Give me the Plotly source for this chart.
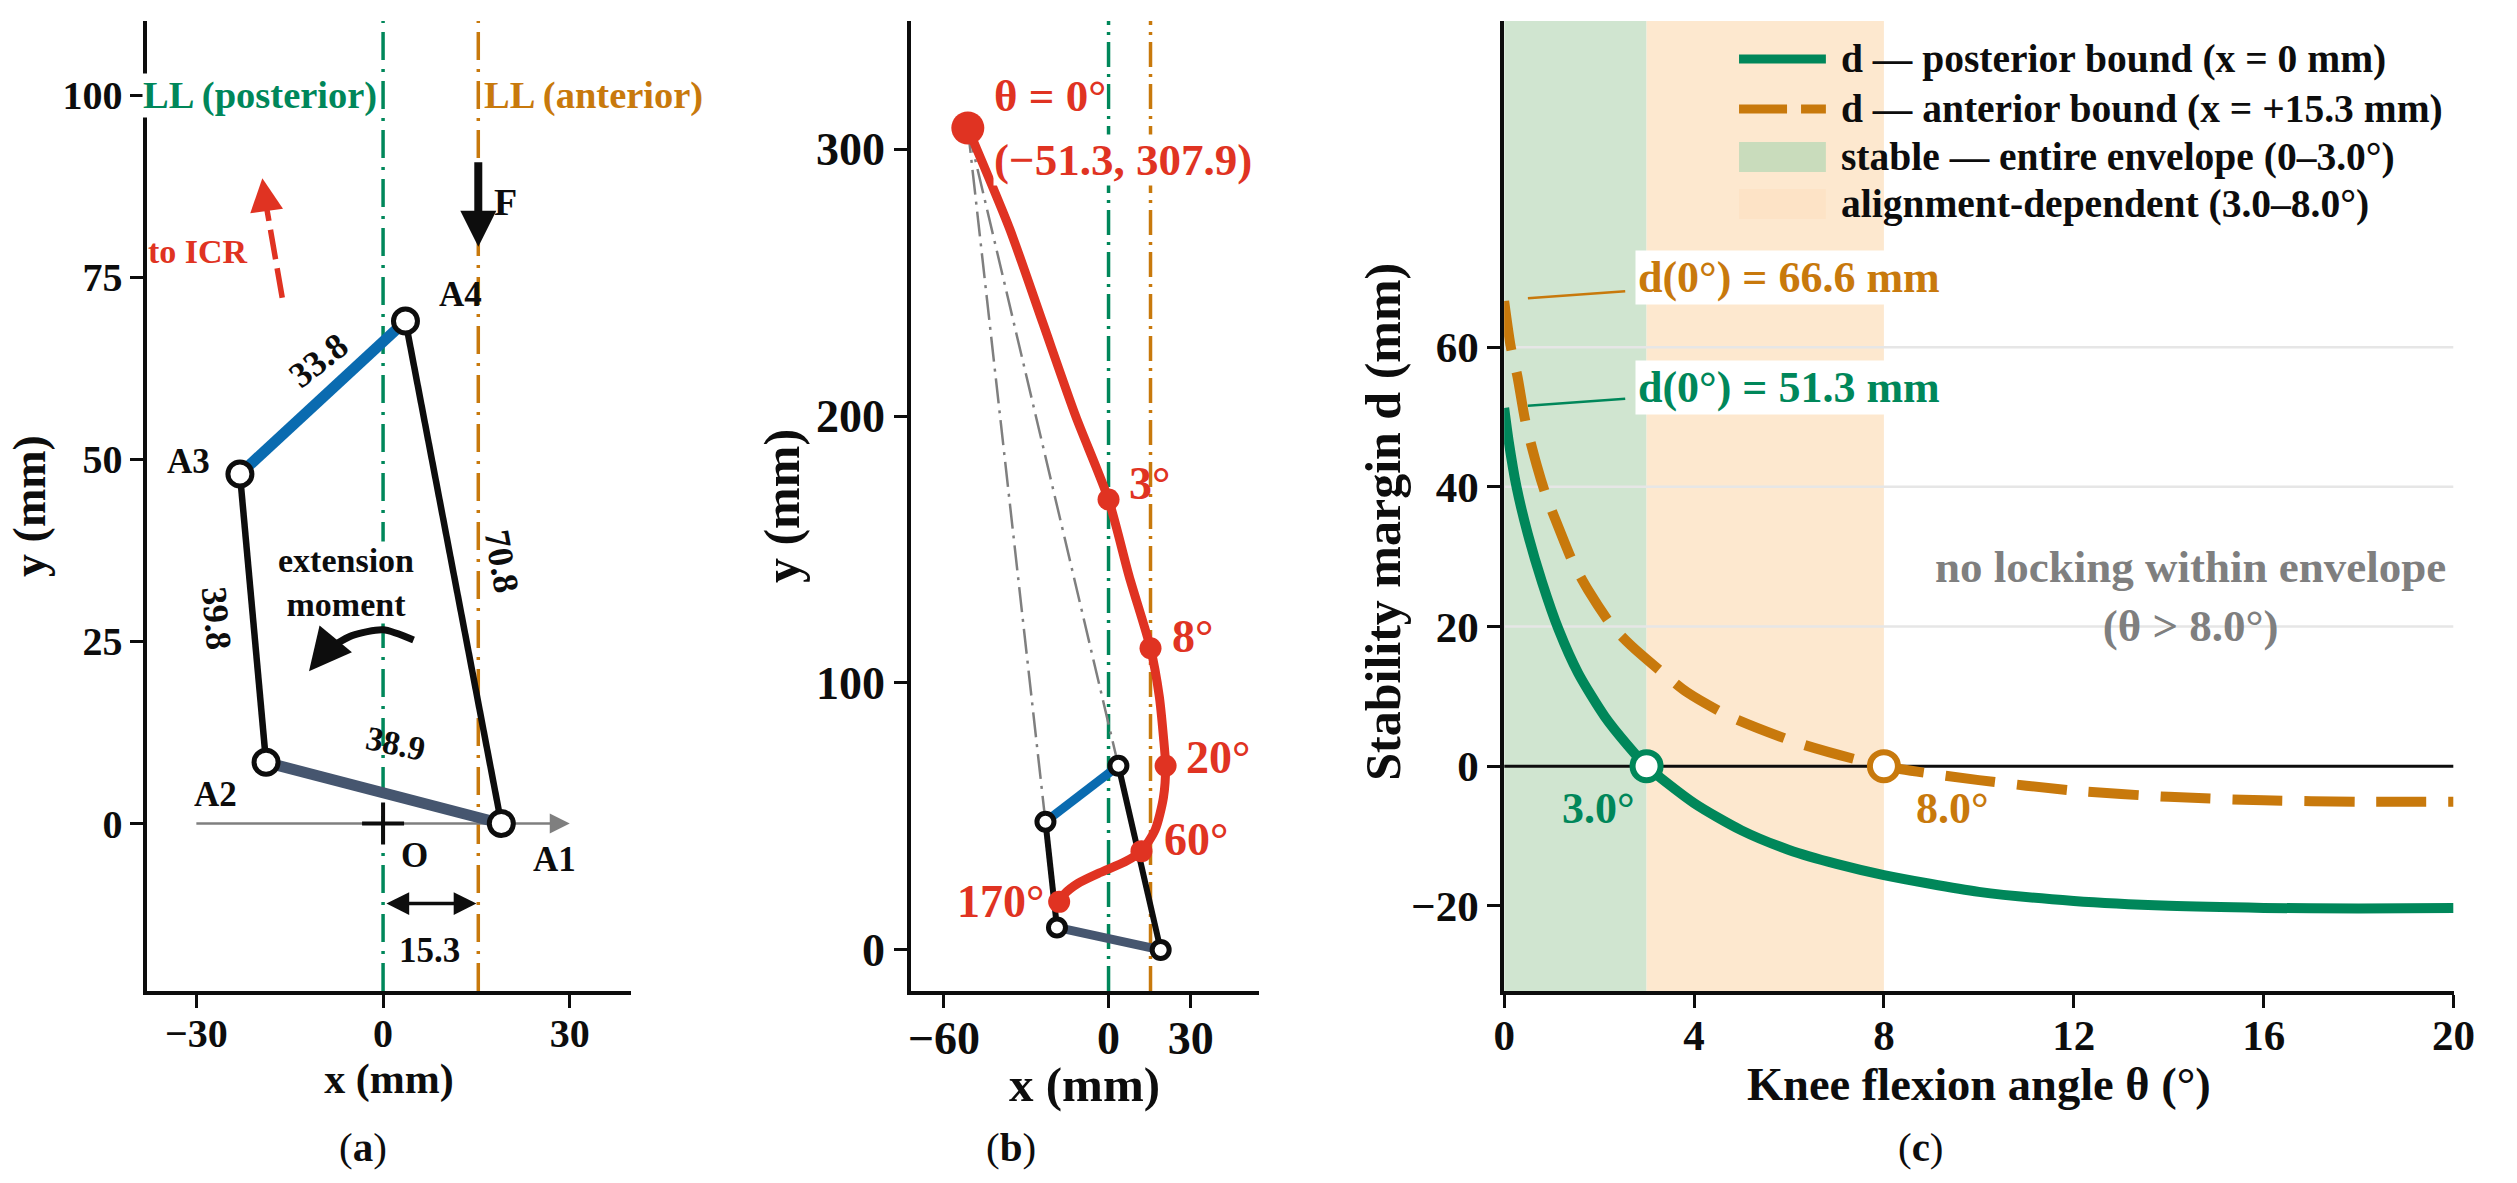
import plotly.graph_objects as go

W, H = 2517, 1183
FONT = "Liberation Serif"
GREEN = "#00875A"
ORANGE = "#C8790C"
RED = "#E03322"
BLUE = "#0A6BB0"
SLATE = "#46566F"
BLACK = "#0D0D0D"
GREY = "#7F7F7F"
DASH_A = "28px,9px,3px,9px"
DASH_B = "25px,7px,3px,7px"

# linkage joints (mm)
joint_x = [19.0, -18.8, -23.0, 3.6]
joint_y = [0.0, 8.4, 48.0, 69.0]
bound_posterior = 0.0
bound_anterior = 15.3

# ICR path, panel b
path_x = [-51.3, -36, -24, -12, 0, 7.5, 15.3, 18.5, 20, 20.8, 20, 17, 12, 6, -3, -11, -16, -18]
path_y = [307.9, 270, 235, 200, 168.7, 140, 113, 95, 80, 69, 57, 45, 37, 33, 29, 25, 21, 18]
path_marker_x = [0, 15.3, 20.8, 12, -18]
path_marker_y = [168.7, 113, 69, 37, 18]

# stability margins, panel c
theta_post = [0, 0.1, 0.26, 0.5, 0.8, 1.15, 1.56, 2.12, 2.6, 3, 4, 5, 6, 7, 8, 10, 12, 14, 16, 18, 20]
d_post = [51.3, 46.3, 40, 33.2, 26.3, 19.5, 13.3, 7.1, 3, 0, -5.3, -9.2, -12, -14, -15.6, -18, -19.3, -20, -20.3, -20.4, -20.3]
theta_ant = [0, 0.14, 0.28, 0.44, 0.69, 0.87, 1.25, 1.46, 1.77, 2.26, 2.67, 3.44, 3.85, 4.76, 6.2, 8, 10, 12, 14, 16, 18, 20]
d_ant = [66.6, 60, 55.8, 49.6, 43, 39, 32.4, 29, 25.2, 20.2, 17.3, 12.8, 10.6, 7.1, 3.3, 0, -2, -3.5, -4.4, -4.9, -5.1, -5.1]
theta_post_lock = 3.0
theta_ant_lock = 8.0
grid_c = [20, 40, 60]

legend_labels = ["d \u2014 posterior bound (x = 0 mm)", "d \u2014 anterior bound (x = +15.3 mm)",
                 "stable \u2014 entire envelope (0\u20133.0\u00b0)", "alignment-dependent (3.0\u20138.0\u00b0)"]

RA = dict(x=[-37.9, 39.8], y=[-23.0, 110.2])
RB = dict(x=[-72.0, 55.0], y=[-15.4, 348.0])
RC = dict(x=[0, 20], y=[-32.2, 106.7])

fig = go.Figure()


def dom(a, b, n):
    return [a / n, b / n]


def axis(domain, rng, ticks, title, anchor, standoff, tick, tsize, tls=0):
    return dict(
        domain=domain, range=rng, tickmode="array", tickvals=ticks,
        ticktext=[str(t).replace("-", "\u2212") for t in ticks],
        ticks="outside", ticklen=13, tickwidth=3, tickcolor=BLACK, ticklabelstandoff=tls,
        showline=True, linecolor=BLACK, linewidth=3.5, showgrid=False, zeroline=False,
        anchor=anchor,
        tickfont=dict(family=FONT, size=tick, color=BLACK, weight="bold"),
        title=dict(text=title, standoff=standoff,
                   font=dict(family=FONT, size=tsize, color=BLACK, weight="bold")),
    )


YD = dom(H - 991, H - 21, H)
shapes = []
LX0, LX1, LTX = 1751, 1839, 1852
LROWS = [59, 109, 157, 204]
shapes.append(dict(type="line", xref="paper", yref="paper", x0=LX0 / W, x1=LX1 / W, y0=1 - LROWS[0] / H, y1=1 - LROWS[0] / H,
                   line=dict(color=GREEN, width=9)))
shapes.append(dict(type="line", xref="paper", yref="paper", x0=LX0 / W, x1=LX1 / W, y0=1 - LROWS[1] / H, y1=1 - LROWS[1] / H,
                   line=dict(color=ORANGE, width=9, dash="48px,14px")))
for row, c in ((LROWS[2], "#C9DCBC"), (LROWS[3], "#FDE3C6")):
    shapes.append(dict(type="rect", xref="paper", yref="paper", x0=LX0 / W, x1=LX1 / W,
                       y0=1 - (row + 15) / H, y1=1 - (row - 15) / H, fillcolor=c, line=dict(width=0)))

L = dict(
    width=W, height=H, margin=dict(l=0, r=0, t=0, b=0),
    paper_bgcolor="white", plot_bgcolor="rgba(0,0,0,0)",
    font=dict(family=FONT, color=BLACK),
    xaxis=axis(dom(138, 628, W), RA["x"], [-30, 0, 30], "x (mm)", "y", 7, 40, 42, -9),
    yaxis=axis(YD, RA["y"], [0, 25, 50, 75, 100], "y (mm)", "x", 3, 40, 46),
    xaxis2=axis(dom(912, 1265, W), RB["x"], [-60, 0, 30], "", "y2", 0, 46, 50, -9),
    yaxis2=axis(YD, RB["y"], [0, 100, 200, 300], "y (mm)", "x2", 2, 46, 50),
    xaxis3=axis(dom(1513, 2475, W), RC["x"], [0, 4, 8, 12, 16, 20], "Knee flexion angle \u03b8 (\u00b0)", "y3", 0, 43, 46.5, -9),
    yaxis3=axis(YD, RC["y"], [-20, 0, 20, 40, 60], "", "x3", 0, 43, 50),
    showlegend=False,
    shapes=shapes,
)


def line(xs, ys, ax, color, width, dash=None, shape=None):
    fig.add_trace(go.Scatter(
        x=xs, y=ys, xaxis="x" + ax, yaxis="y" + ax, mode="lines",
        line=dict(color=color, width=width, dash=dash, shape=shape, smoothing=0.7 if shape else None),
        showlegend=False, hoverinfo="skip"))


def text(s, x, y, ax, color=BLACK, size=30, angle=0, bg=None, anchor="center", pad=0):
    fig.add_annotation(
        text=s, x=x, y=y, xref="x" + ax, yref="y" + ax, showarrow=False, textangle=angle,
        xanchor=anchor, yanchor="middle", bgcolor=bg, borderpad=pad,
        font=dict(family=FONT, size=size, color=color, weight="bold"))


def ptext(s, px, py, size, color=BLACK, angle=0, anchor="center", weight="bold"):
    fig.add_annotation(
        text=s, x=px / W, y=1 - py / H, xref="paper", yref="paper", showarrow=False, textangle=angle,
        xanchor=anchor, yanchor="middle",
        font=dict(family=FONT, size=size, color=color, weight=weight))


def arrow(x0, y0, x1, y1, ax, color, width, head=2, size=1.0, side="end"):
    fig.add_annotation(
        x=x1, y=y1, ax=x0, ay=y0, xref="x" + ax, yref="y" + ax, axref="x" + ax, ayref="y" + ax,
        text="", showarrow=True, arrowhead=head, arrowsize=size, arrowwidth=width,
        arrowcolor=color, arrowside=side, standoff=0, startstandoff=0)


def linkage(ax, thick, thin, msize, mline):
    xs, ys = joint_x, joint_y
    line([xs[1], xs[2]], [ys[1], ys[2]], ax, BLACK, thin)
    line([xs[3], xs[0]], [ys[3], ys[0]], ax, BLACK, thin)
    line([xs[0], xs[1]], [ys[0], ys[1]], ax, SLATE, thick)
    line([xs[2], xs[3]], [ys[2], ys[3]], ax, BLUE, thick)
    fig.add_trace(go.Scatter(
        x=xs, y=ys, xaxis="x" + ax, yaxis="y" + ax, mode="markers", showlegend=False, hoverinfo="skip",
        marker=dict(size=msize, color="white", line=dict(color=BLACK, width=mline))))


# ---------- panel a ----------
line([bound_posterior] * 2, RA["y"], "", GREEN, 3.5, DASH_A)
line([bound_anterior] * 2, RA["y"], "", ORANGE, 3.5, DASH_A)
line([bound_posterior] * 2, RB["y"], "2", GREEN, 3.5, DASH_B)
line([bound_anterior] * 2, RB["y"], "2", ORANGE, 3.5, DASH_B)

line([-30, 29], [0, 0], "", GREY, 2.5)
arrow(28, 0, 30, 0, "", GREY, 2.5, head=2, size=1.6)
linkage("", 11, 6.5, 24, 5)
fig.add_trace(go.Scatter(x=[0], y=[0], mode="markers", showlegend=False, hoverinfo="skip",
                         marker=dict(symbol="cross-thin", size=30, line=dict(color=BLACK, width=4))))

line([-16.2, -19.0], [72.2, 86], "", RED, 5.5, "30px,9px")
arrow(-19.0, 86, -19.4, 88.6, "", RED, 5.5, head=2, size=1.2)
arrow(15.3, 91, 15.3, 79.2, "", BLACK, 8, head=2, size=0.9)
arrow(0.3, -11, 15, -11, "", BLACK, 3.5, head=2, size=1.3, side="end+start")
text("extension<br>moment", -5.9, 33.1, "", BLACK, 34, bg="white")
line([4.9, 0, -5, -9], [25.2, 26.6, 25.8, 23.9], "", BLACK, 7, shape="spline")
arrow(-9, 23.9, -11.9, 20.9, "", BLACK, 7, head=2, size=1.2)

text("LL (posterior)", -19.8, 100, "", GREEN, 38.5, bg="white")
text("LL (anterior)", 33.8, 100, "", ORANGE, 38.5, bg="white")
text("to ICR", -37.9, 78.5, "", RED, 34, bg="white", anchor="left")
text("F", 19.7, 85.3, "", BLACK, 38)
text("A4", 12.4, 72.6, "", BLACK, 35)
text("A3", -31.3, 49.7, "", BLACK, 35)
text("A2", -27, 4, "", BLACK, 35)
text("A1", 27.5, -5, "", BLACK, 35)
text("O", 5, -4.4, "", BLACK, 35)
text("15.3", 7.5, -17.5, "", BLACK, 35)
text("33.8", -10.3, 63.6, "", BLACK, 36, angle=-38)
text("39.8", -26.8, 28.2, "", BLACK, 36, angle=85)
text("70.8", 19, 36, "", BLACK, 36, angle=80)
text("38.9", 2, 11, "", BLACK, 34, angle=12)

# ---------- panel b ----------
line([path_x[0], joint_x[2]], [path_y[0], joint_y[2]], "2", GREY, 2.5, DASH_B)
line([path_x[0], joint_x[3]], [path_y[0], joint_y[3]], "2", GREY, 2.5, DASH_B)
linkage("2", 9, 6, 17, 5)
line(path_x, path_y, "2", RED, 9, shape="spline")
fig.add_trace(go.Scatter(x=path_marker_x, y=path_marker_y, xaxis="x2", yaxis="y2", mode="markers",
                         showlegend=False, hoverinfo="skip", marker=dict(size=22, color=RED)))
fig.add_trace(go.Scatter(x=path_x[:1], y=path_y[:1], xaxis="x2", yaxis="y2", mode="markers",
                         showlegend=False, hoverinfo="skip", marker=dict(size=33, color=RED)))
text("\u03b8 = 0\u00b0", -21.2, 320, "2", RED, 45, bg="white")
text("(\u221251.3, 307.9)", 5.4, 295.8, "2", RED, 45, bg="white")
text("3\u00b0", 15, 174.7, "2", RED, 46)
text("8\u00b0", 30.6, 117.5, "2", RED, 46)
text("20\u00b0", 39.9, 72, "2", RED, 46)
text("60\u00b0", 31.8, 41.5, "2", RED, 46)
text("170\u00b0", -39.3, 18, "2", RED, 46)
ptext("x (mm)", 1088, 1084, 49)

# ---------- panel c ----------
yb, yt = RC["y"]
fig.add_trace(go.Scatter(x=[0, theta_post_lock, theta_post_lock, 0], y=[yb, yb, yt, yt], xaxis="x3", yaxis="y3",
                         mode="lines", fill="toself", fillcolor="#D0E5D0", line=dict(width=0),
                         showlegend=False, hoverinfo="skip"))
fig.add_trace(go.Scatter(x=[theta_post_lock, theta_ant_lock, theta_ant_lock, theta_post_lock], y=[yb, yb, yt, yt],
                         xaxis="x3", yaxis="y3", mode="lines", fill="toself", fillcolor="#FDE8CF",
                         line=dict(width=0), showlegend=False, hoverinfo="skip"))
for g in grid_c:
    line([0, 20], [g, g], "3", "#E6E6E6", 2.5)
line([0, 20], [0, 0], "3", BLACK, 3)
line(theta_post, d_post, "3", GREEN, 10, shape="spline")
line(theta_ant, d_ant, "3", ORANGE, 10, dash="50px,22px", shape="spline")
line([0.5, 2.55], [67, 68], "3", ORANGE, 2.5)
line([0.5, 2.55], [51.6, 52.6], "3", GREEN, 2.5)
fig.add_trace(go.Scatter(x=[theta_post_lock], y=[0], xaxis="x3", yaxis="y3", mode="markers", showlegend=False,
                         hoverinfo="skip", marker=dict(size=28, color="white", line=dict(color=GREEN, width=6))))
fig.add_trace(go.Scatter(x=[theta_ant_lock], y=[0], xaxis="x3", yaxis="y3", mode="markers", showlegend=False,
                         hoverinfo="skip", marker=dict(size=28, color="white", line=dict(color=ORANGE, width=6))))
text("d(0\u00b0) = 66.6 mm", 6.0, 69.9, "3", ORANGE, 44, bg="white", pad=2)
text("d(0\u00b0) = 51.3 mm", 6.0, 54.2, "3", GREEN, 44, bg="white", pad=2)
text("3.0\u00b0", 1.98, -6, "3", GREEN, 44)
text("8.0\u00b0", 9.45, -6, "3", ORANGE, 44)
text("no locking within envelope<br>(\u03b8 > 8.0\u00b0)", 14.46, 24.3, "3", GREY, 45)
ptext("Stability margin d (mm)", 1390, 522, 50, angle=-90)

for label, row in zip(legend_labels, LROWS):
    ptext(label, LTX, row, 39.5, anchor="left")

for s, px in (("(<b>a</b>)", 357), ("(<b>b</b>)", 1013), ("(<b>c</b>)", 1935)):
    ptext(s, px, 1147, 41, weight="normal")

fig.update_layout(**L)
fig.write_html("out.html", config=dict(displayModeBar=False),
               post_script="document.body.style.margin='0';")
